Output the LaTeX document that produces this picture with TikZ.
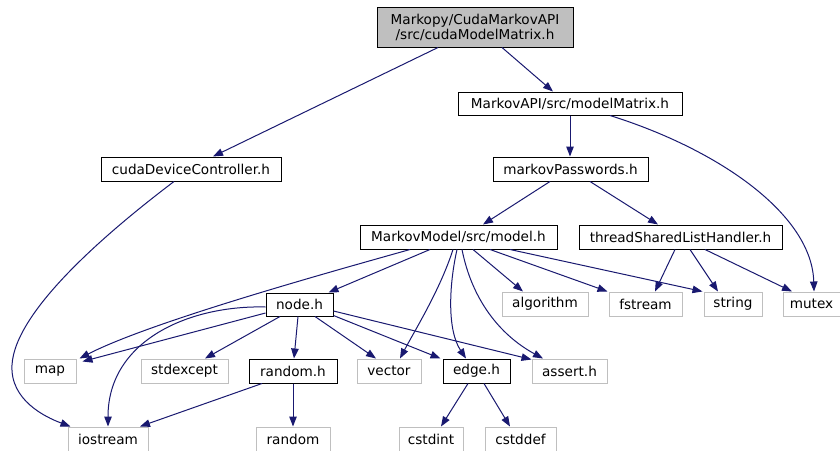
\documentclass[tikz,border=0pt]{standalone}
\usepackage{fontspec}
\setmainfont{DejaVu Sans}
\usetikzlibrary{arrows.meta}
\definecolor{edgeblue}{HTML}{191970}
\definecolor{boxgray}{HTML}{BFBFBF}
\begin{document}
\begin{tikzpicture}[x=1pt,y=-1pt,
  box/.style={draw=black,line width=1pt,fill=white,inner sep=0pt,
    font=\fontsize{13.6}{15}\selectfont,text=black},
  ext/.style={box,draw=boxgray},
  root/.style={box,fill=boxgray,align=center},
  dep/.style={draw=edgeblue,line width=1pt,
    -{Triangle[length=10pt,width=7.5pt]}}]
\useasboundingbox (0,0) rectangle (840,450);
\fill[white] (0,0) rectangle (840,450);

% header files of the project
\node[root,minimum width=196pt,minimum height=40pt] (cmm) at (475,27)
  {Markopy/CudaMarkovAPI\\/src/cudaModelMatrix.h};
\node[box,minimum width=224pt,minimum height=23pt] (mm) at (570,103.5) {MarkovAPI/src/modelMatrix.h};
\node[box,minimum width=180pt,minimum height=24pt] (cdc) at (191,169) {cudaDeviceController.h};
\node[box,minimum width=155pt,minimum height=24pt] (mp) at (570.5,169) {markovPasswords.h};
\node[box,minimum width=197pt,minimum height=24pt] (model) at (458.5,237) {MarkovModel/src/model.h};
\node[box,minimum width=203pt,minimum height=24pt] (tslh) at (680.5,237) {threadSharedListHandler.h};
\node[box,minimum width=67pt,minimum height=23pt] (node) at (299.5,304.5) {node.h};
\node[box,minimum width=88pt,minimum height=24pt] (randomh) at (293,371) {random.h};
\node[box,minimum width=67pt,minimum height=24pt] (edge) at (476.5,371) {edge.h};

% system headers
\node[ext,minimum width=86pt,minimum height=24pt] (algorithm) at (545,304) {algorithm};
\node[ext,minimum width=73pt,minimum height=24pt] (fstream) at (645.5,304) {fstream};
\node[ext,minimum width=58pt,minimum height=24pt] (string) at (733,304) {string};
\node[ext,minimum width=57pt,minimum height=24pt] (mutex) at (811.5,304) {mutex};
\node[ext,minimum width=52pt,minimum height=24pt] (map) at (50,371) {map};
\node[ext,minimum width=87pt,minimum height=24pt] (stdexcept) at (184.5,371) {stdexcept};
\node[ext,minimum width=64pt,minimum height=24pt] (vector) at (389,371) {vector};
\node[ext,minimum width=75pt,minimum height=24pt] (assert) at (569.5,371) {assert.h};
\node[ext,minimum width=80pt,minimum height=24pt] (iostream) at (108,439) {iostream};
\node[ext,minimum width=74pt,minimum height=24pt] (random) at (293,439) {random};
\node[ext,minimum width=64pt,minimum height=24pt] (cstdint) at (431,439) {cstdint};
\node[ext,minimum width=71pt,minimum height=24pt] (cstddef) at (520.5,439) {cstddef};

% include dependencies
\draw[dep] ([xshift=-37pt]cmm.south) -- ([xshift=22pt]cdc.north);
\draw[dep] ([xshift=27pt]cmm.south) -- ([xshift=-17pt]mm.north);
\draw[dep] (mm.south) -- (mm.south |- mp.north);
\draw[dep] ([xshift=40pt]mm.south) .. controls (720,150) and (812,215) .. ([xshift=2.5pt]mutex.north);
\draw[dep] ([xshift=-17pt]cdc.south) .. controls (110,230) and (15,310) .. (12,365)
  .. controls (10,400) and (45,417) .. ([xshift=3pt]iostream.north west);
\draw[dep] ([xshift=-20.5pt]mp.south) -- ([xshift=24.5pt]model.north);
\draw[dep] ([xshift=19.5pt]mp.south) -- ([xshift=-22.5pt]tslh.north);

\draw[dep] ([xshift=-48.5pt]model.south) .. controls (330,272) and (150,322) .. ([xshift=3pt]map.north east);
\draw[dep] ([xshift=-28.5pt]model.south) -- ([xshift=-5pt]node.north east);
\draw[dep] ([xshift=-5.5pt]model.south) .. controls (440,290) and (415,330) .. ([xshift=11pt]vector.north);
\draw[dep] ([xshift=-1.5pt]model.south) .. controls (449,285) and (447,330) .. ([xshift=-10.5pt]edge.north);
\draw[dep] ([xshift=3.5pt]model.south) .. controls (472,300) and (500,335) .. ([xshift=-26.5pt]assert.north);
\draw[dep] ([xshift=14.5pt]model.south) -- ([xshift=-22pt]algorithm.north);
\draw[dep] ([xshift=31.5pt]model.south) -- ([xshift=-1pt]fstream.north west);
\draw[dep] ([xshift=51.5pt]model.south) -- ([xshift=-1pt]string.north west);

\draw[dep] ([xshift=-5.5pt]tslh.south) -- ([xshift=9.5pt]fstream.north);
\draw[dep] ([xshift=9.5pt]tslh.south) -- ([xshift=-15pt]string.north);
\draw[dep] ([xshift=24.5pt]tslh.south) -- ([xshift=-19.5pt]mutex.north);

\draw[dep] ([yshift=-8.5pt]node.west) -- ([xshift=6pt,yshift=-3pt]map.north east);
\draw[dep] ([yshift=-2.5pt]node.west) .. controls (190,305) and (108,340) .. (iostream.north);
\draw[dep] ([xshift=-19.5pt]node.south) -- ([xshift=20.5pt]stdexcept.north);
\draw[dep] ([xshift=-1.5pt]node.south) -- ([xshift=1pt]randomh.north);
\draw[dep] ([xshift=15.5pt]node.south) -- ([xshift=-13pt]vector.north);
\draw[dep] ([yshift=1pt]node.south east) -- ([xshift=-2pt]edge.north west);
\draw[dep] ([yshift=-6.5pt]node.east) -- ([yshift=-1pt]assert.north west);

\draw[dep] ([xshift=-31pt]randomh.south) -- ([xshift=32pt]iostream.north);
\draw[dep] (randomh.south) -- (random.north);
\draw[dep] ([xshift=-8.5pt]edge.south) -- ([xshift=10pt]cstdint.north);
\draw[dep] ([xshift=7.5pt]edge.south) -- ([xshift=-10.5pt]cstddef.north);
\end{tikzpicture}
\end{document}
